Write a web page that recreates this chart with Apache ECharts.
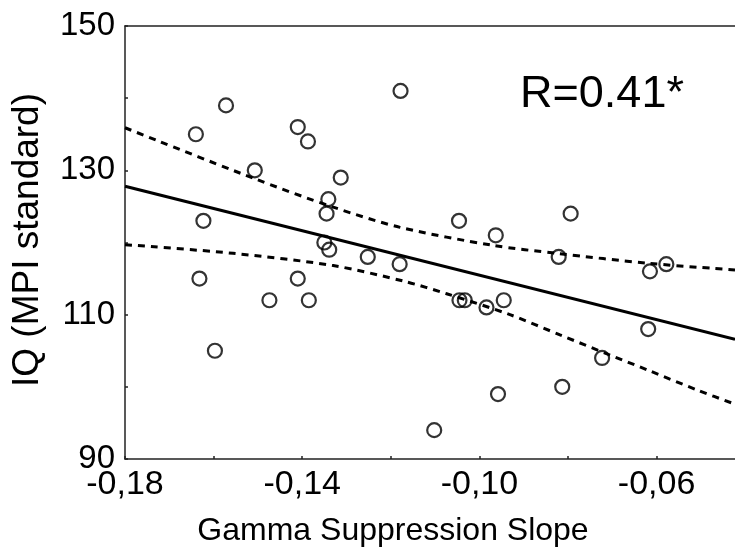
<!DOCTYPE html>
<html>
<head>
<meta charset="utf-8">
<style>
  html, body { margin: 0; padding: 0; background: #fff; }
  #main { width: 735px; height: 555px; }
</style>
<script src="https://cdn.jsdelivr.net/npm/echarts@6/dist/echarts.min.js"></script>
</head>
<body>
<div id="main"></div>
<script>
// gamma suppression slope (x) and IQ (y) for each subject
var slopeValues = [-0.1640, -0.1572, -0.1410, -0.1387, -0.1507, -0.1313, -0.1341, -0.1345, -0.1623,
    -0.1350, -0.1339, -0.1252, -0.1180, -0.1178, -0.1632, -0.1410, -0.1474, -0.1385, -0.1597,
    -0.1046, -0.0963, -0.0794, -0.0821, -0.0578, -0.0615, -0.1045, -0.1033, -0.0984, -0.0945,
    -0.0619, -0.0723, -0.0813, -0.0958, -0.1102];
var iqValues = [135, 139, 136, 134, 130, 129, 126, 124, 123,
    120, 119, 118, 117, 141, 115, 115, 112, 112, 105,
    123, 121, 124, 118, 117, 116, 112, 112, 111, 112,
    108, 104, 100, 99, 94];

// regression line
var fitX = [-0.18, -0.0423];
var fitY = [127.8, 106.6];

// confidence band
var upperX = [-0.18, -0.1510, -0.1330, -0.1179, -0.0969, -0.0826, -0.0615, -0.0423];
var upperY = [135.9, 128.9, 124.9, 122.1, 119.6, 118.5, 117.1, 116.2];
var lowerX = [-0.18, -0.1556, -0.1330, -0.1168, -0.1074, -0.0931, -0.0818, -0.0709, -0.0619, -0.0506, -0.0423];
var lowerY = [119.7, 118.5, 116.8, 114.6, 112.9, 110.0, 107.2, 104.5, 102.3, 99.5, 97.6];

// ticks
var xTicks = [-0.18, -0.16, -0.14, -0.12, -0.10, -0.08, -0.06];
var xTickLabels = [-0.18, -0.14, -0.10, -0.06];
var yTicks = [90, 100, 110, 120, 130, 140, 150];
var yTickLabels = [90, 110, 130, 150];

var FONT = '"Liberation Sans", Arial, sans-serif';

function zip(xs, ys) {
    var out = [];
    for (var i = 0; i < xs.length; i++) out.push([xs[i], ys[i]]);
    return out;
}

var myChart = echarts.init(document.getElementById('main'));
var axisLine = { show: true, lineStyle: { color: '#222', width: 1.5 } };

var option = {
    animation: false,
    backgroundColor: '#fff',
    grid: { left: 125, top: 26, right: 0, bottom: 96, outerBoundsMode: 'none' },
    xAxis: [{
        type: 'value',
        min: -0.18,
        max: -0.0423,
        axisLine: axisLine,
        splitLine: { show: false },
        axisTick: { show: true, inside: true, length: 3, customValues: xTicks, lineStyle: { color: '#222', width: 1.5 } },
        axisLabel: {
            customValues: xTickLabels,
            margin: 9,
            color: '#000',
            fontSize: 34,
            fontFamily: FONT,
            formatter: function (v) { return v.toFixed(2).replace('.', ','); }
        }
    }, {
        type: 'value',
        position: 'top',
        min: -0.18,
        max: -0.0423,
        axisLine: axisLine,
        splitLine: { show: false },
        axisTick: { show: false },
        axisLabel: { show: false }
    }],
    yAxis: {
        type: 'value',
        min: 90,
        max: 150,
        interval: 10,
        axisLine: axisLine,
        splitLine: { show: false },
        axisTick: { show: true, inside: true, length: 3, customValues: yTicks, lineStyle: { color: '#222', width: 1.5 } },
        axisLabel: {
            customValues: yTickLabels,
            margin: 10,
            color: '#000',
            fontSize: 33,
            fontFamily: FONT
        }
    },
    series: [{
        type: 'line',
        data: zip(upperX, upperY),
        smooth: 0.3,
        symbol: 'none',
        lineStyle: { color: '#000', width: 3, type: [7, 6] }
    }, {
        type: 'line',
        data: zip(lowerX, lowerY),
        smooth: 0.3,
        symbol: 'none',
        lineStyle: { color: '#000', width: 3, type: [7, 6] }
    }, {
        type: 'line',
        data: zip(fitX, fitY),
        symbol: 'none',
        lineStyle: { color: '#000', width: 3 }
    }, {
        type: 'scatter',
        data: zip(slopeValues, iqValues),
        symbol: 'circle',
        symbolSize: 14,
        itemStyle: { color: 'transparent', borderColor: '#000', borderWidth: 2.2 }
    }],
    graphic: [{
        type: 'text',
        x: 393, y: 531,
        style: {
            text: 'Gamma Suppression Slope',
            font: '32px ' + FONT,
            fill: '#000',
            align: 'center',
            verticalAlign: 'middle'
        }
    }, {
        type: 'text',
        x: 28, y: 240,
        rotation: Math.PI / 2,
        style: {
            text: 'IQ (MPI standard)',
            font: '37px ' + FONT,
            fill: '#000',
            align: 'center',
            verticalAlign: 'middle'
        }
    }, {
        type: 'text',
        x: 602, y: 95,
        style: {
            text: 'R=0.41*',
            font: '45px ' + FONT,
            fill: '#000',
            align: 'center',
            verticalAlign: 'middle'
        }
    }]
};

myChart.setOption(option, true);
window.addEventListener('resize', function () {
    myChart.resize();
});
</script>
</body>
</html>
